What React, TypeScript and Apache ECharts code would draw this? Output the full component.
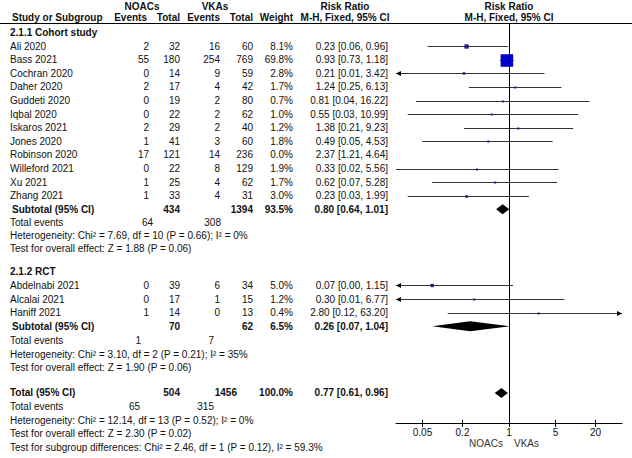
import React, { useEffect, useRef } from 'react';
import * as echarts from 'echarts';

// ---------------- data ----------------
const cohortStudies = ['Ali 2020', 'Bass 2021', 'Cochran 2020', 'Daher 2020', 'Guddeti 2020', 'Iqbal 2020', 'Iskaros 2021', 'Jones 2020', 'Robinson 2020', 'Willeford 2021', 'Xu 2021', 'Zhang 2021'];
const cohortNoacEvents = [2, 55, 0, 2, 0, 0, 2, 1, 17, 0, 1, 1];
const cohortNoacTotal = [32, 180, 14, 17, 19, 22, 29, 41, 121, 22, 25, 33];
const cohortVkaEvents = [16, 254, 9, 4, 2, 2, 2, 3, 14, 8, 4, 4];
const cohortVkaTotal = [60, 769, 59, 42, 80, 62, 40, 60, 236, 129, 62, 31];
const cohortWeight = [8.1, 69.8, 2.8, 1.7, 0.7, 1.0, 1.2, 1.8, 0.0, 1.9, 1.7, 3.0];
const cohortRR = [0.23, 0.93, 0.21, 1.24, 0.81, 0.55, 1.38, 0.49, 2.37, 0.33, 0.62, 0.23];
const cohortLower = [0.06, 0.73, 0.01, 0.25, 0.04, 0.03, 0.21, 0.05, 1.21, 0.02, 0.07, 0.03];
const cohortUpper = [0.96, 1.18, 3.42, 6.13, 16.22, 10.99, 9.23, 4.53, 4.64, 5.56, 5.28, 1.99];

const rctStudies = ['Abdelnabi 2021', 'Alcalai 2021', 'Haniff 2021'];
const rctNoacEvents = [0, 0, 1];
const rctNoacTotal = [39, 17, 14];
const rctVkaEvents = [6, 1, 0];
const rctVkaTotal = [34, 15, 13];
const rctWeight = [5.0, 1.2, 0.4];
const rctRR = [0.07, 0.30, 2.80];
const rctLower = [0.00, 0.01, 0.12];
const rctUpper = [1.15, 6.77, 63.20];

// subtotal / total: [rr, lower, upper]
const cohortSubtotal = [0.80, 0.64, 1.01];
const rctSubtotal = [0.26, 0.07, 1.04];
const overallTotal = [0.77, 0.61, 0.96];
// [noacTotal, vkaTotal, weight, noacEvents, vkaEvents]
const cohortSums = [434, 1394, 93.5, 64, 308];
const rctSums = [70, 62, 6.5, 1, 7];
const overallSums = [504, 1456, 100.0, 65, 315];

const cohortHet = 'Heterogeneity: Chi² = 7.69, df = 10 (P = 0.66); I² = 0%';
const cohortZ = 'Test for overall effect: Z = 1.88 (P = 0.06)';
const rctHet = 'Heterogeneity: Chi² = 3.10, df = 2 (P = 0.21); I² = 35%';
const rctZ = 'Test for overall effect: Z = 1.90 (P = 0.06)';
const totalHet = 'Heterogeneity: Chi² = 12.14, df = 13 (P = 0.52); I² = 0%';
const totalZ = 'Test for overall effect: Z = 2.30 (P = 0.02)';
const subgroupTest = 'Test for subgroup differences: Chi² = 2.46, df = 1 (P = 0.12), I² = 59.3%';

const tickValues = [0.05, 0.2, 1, 5, 20];
const tickLabels = ['0.05', '0.2', '1', '5', '20'];
const axisRangeMax = 50; // axis runs 1/50 .. 50 (log-symmetric around RR = 1)
const nullEffect = 1;

// ---------------- layout ----------------
const W = 632;
const H = 458;
const FONT = '"Liberation Sans", Arial, sans-serif';
const HEADER_LINE_Y = 23;
const AXIS_Y = 423;
const PLOT_LEFT = 396;
const PLOT_RIGHT = 622;
const Y0 = 32.5;
const PITCH = 13.6;
const SLOT = {
  cohortHead: 0, cohortFirst: 1, cohortSub: 13, cohortEvents: 14, cohortHet: 14.95, cohortZ: 15.9,
  rctHead: 17.6, rctFirst: 18.6, rctSub: 21.6, rctEvents: 22.65, rctHet: 23.65, rctZ: 24.65,
  total: 26.5, totalEvents: 27.5, totalHet: 28.5, totalZ: 29.5, subgroup: 30.5,
};
const COL = { study: 10, sub: 12, noacEv: 149, noacTot: 180, vkaEv: 220, vkaTot: 253, weight: 293, ci: 388 };

const rowY = (s: number) => Y0 + PITCH * s;
const LOG_MAX = Math.log10(axisRangeMax);
const LOG_MIN = -LOG_MAX;
const Y_MIN = (HEADER_LINE_Y - Y0) / PITCH;
const Y_MAX = (AXIS_Y - Y0) / PITCH;
const lg = (v: number) => (v > 0 ? Math.log10(v) : -10);
const tickLogs = tickValues.map((v) => Math.log10(v));
const ciText = (r: number, l: number, u: number) => `${r.toFixed(2)} [${l.toFixed(2)}, ${u.toFixed(2)}]`;

function T(text: string, x: number, y: number, o: { bold?: boolean; align?: string; fill?: string } = {}) {
  const align = o.align || 'left';
  return {
    type: 'text',
    x,
    y,
    silent: true,
    style: {
      text,
      fill: o.fill || '#111',
      font: `${o.bold ? 'bold ' : ''}10px ${FONT}`,
      align,
      textAlign: align,
      verticalAlign: 'middle',
      textVerticalAlign: 'middle',
    },
  };
}

function buildGraphics() {
  const g: any[] = [];
  // header
  g.push(T('NOACs', 142, 6, { bold: true, align: 'center' }));
  g.push(T('VKAs', 215, 6, { bold: true, align: 'center' }));
  g.push(T('Risk Ratio', 345, 6, { bold: true, align: 'center' }));
  g.push(T('Risk Ratio', 509, 6, { bold: true, align: 'center' }));
  g.push(T('Study or Subgroup', 12, 17, { bold: true }));
  g.push(T('Events', 147, 17, { bold: true, align: 'right' }));
  g.push(T('Total', 180, 17, { bold: true, align: 'right' }));
  g.push(T('Events', 220, 17, { bold: true, align: 'right' }));
  g.push(T('Total', 253, 17, { bold: true, align: 'right' }));
  g.push(T('Weight', 293, 17, { bold: true, align: 'right' }));
  g.push(T('M-H, Fixed, 95% CI', 345, 17, { bold: true, align: 'center' }));
  g.push(T('M-H, Fixed, 95% CI', 509, 17, { bold: true, align: 'center' }));
  g.push({ type: 'rect', silent: true, shape: { x: 0, y: HEADER_LINE_Y, width: W, height: 1 }, style: { fill: '#000' } });

  const studyRows = (names: string[], ne: number[], nt: number[], ve: number[], vt: number[], w: number[], rr: number[], lo: number[], hi: number[], first: number) => {
    names.forEach((n, i) => {
      const y = rowY(first + i);
      g.push(T(n, COL.study, y));
      g.push(T(String(ne[i]), COL.noacEv, y, { align: 'right' }));
      g.push(T(String(nt[i]), COL.noacTot, y, { align: 'right' }));
      g.push(T(String(ve[i]), COL.vkaEv, y, { align: 'right' }));
      g.push(T(String(vt[i]), COL.vkaTot, y, { align: 'right' }));
      g.push(T(`${w[i].toFixed(1)}%`, COL.weight, y, { align: 'right' }));
      g.push(T(ciText(rr[i], lo[i], hi[i]), COL.ci, y, { align: 'right' }));
    });
  };

  // cohort
  g.push(T('2.1.1 Cohort study', COL.study, rowY(SLOT.cohortHead), { bold: true }));
  studyRows(cohortStudies, cohortNoacEvents, cohortNoacTotal, cohortVkaEvents, cohortVkaTotal, cohortWeight, cohortRR, cohortLower, cohortUpper, SLOT.cohortFirst);
  let y = rowY(SLOT.cohortSub);
  g.push(T('Subtotal (95% CI)', COL.sub, y, { bold: true }));
  g.push(T(String(cohortSums[0]), COL.noacTot, y, { bold: true, align: 'right' }));
  g.push(T(String(cohortSums[1]), COL.vkaTot, y, { bold: true, align: 'right' }));
  g.push(T(`${cohortSums[2].toFixed(1)}%`, COL.weight, y, { bold: true, align: 'right' }));
  g.push(T(ciText(cohortSubtotal[0], cohortSubtotal[1], cohortSubtotal[2]), COL.ci, y, { bold: true, align: 'right' }));
  y = rowY(SLOT.cohortEvents);
  g.push(T('Total events', COL.study, y));
  g.push(T(String(cohortSums[3]), 153, y, { align: 'right' }));
  g.push(T(String(cohortSums[4]), 221, y, { align: 'right' }));
  g.push(T(cohortHet, COL.study, rowY(SLOT.cohortHet)));
  g.push(T(cohortZ, COL.study, rowY(SLOT.cohortZ)));

  // RCT
  g.push(T('2.1.2 RCT', COL.study, rowY(SLOT.rctHead), { bold: true }));
  studyRows(rctStudies, rctNoacEvents, rctNoacTotal, rctVkaEvents, rctVkaTotal, rctWeight, rctRR, rctLower, rctUpper, SLOT.rctFirst);
  y = rowY(SLOT.rctSub);
  g.push(T('Subtotal (95% CI)', COL.sub, y, { bold: true }));
  g.push(T(String(rctSums[0]), COL.noacTot, y, { bold: true, align: 'right' }));
  g.push(T(String(rctSums[1]), COL.vkaTot, y, { bold: true, align: 'right' }));
  g.push(T(`${rctSums[2].toFixed(1)}%`, COL.weight, y, { bold: true, align: 'right' }));
  g.push(T(ciText(rctSubtotal[0], rctSubtotal[1], rctSubtotal[2]), COL.ci, y, { bold: true, align: 'right' }));
  y = rowY(SLOT.rctEvents);
  g.push(T('Total events', COL.study, y));
  g.push(T(String(rctSums[3]), 141, y, { align: 'right' }));
  g.push(T(String(rctSums[4]), 214, y, { align: 'right' }));
  g.push(T(rctHet, COL.study, rowY(SLOT.rctHet)));
  g.push(T(rctZ, COL.study, rowY(SLOT.rctZ)));

  // total
  y = rowY(SLOT.total);
  g.push(T('Total (95% CI)', COL.study, y, { bold: true }));
  g.push(T(String(overallSums[0]), COL.noacTot, y, { bold: true, align: 'right' }));
  g.push(T(String(overallSums[1]), 237, y, { bold: true, align: 'right' }));
  g.push(T(`${overallSums[2].toFixed(1)}%`, COL.weight, y, { bold: true, align: 'right' }));
  g.push(T(ciText(overallTotal[0], overallTotal[1], overallTotal[2]), COL.ci, y, { bold: true, align: 'right' }));
  y = rowY(SLOT.totalEvents);
  g.push(T('Total events', COL.study, y));
  g.push(T(String(overallSums[3]), 140, y, { align: 'right' }));
  g.push(T(String(overallSums[4]), 214, y, { align: 'right' }));
  g.push(T(totalHet, COL.study, rowY(SLOT.totalHet)));
  g.push(T(totalZ, COL.study, rowY(SLOT.totalZ)));
  g.push(T(subgroupTest, COL.study, rowY(SLOT.subgroup)));

  // favours labels
  g.push(T('NOACs', 503, 443, { align: 'right', fill: '#333' }));
  g.push(T('VKAs', 514, 443, { align: 'left', fill: '#333' }));
  return g;
}

function studyData() {
  const rows: number[][] = [];
  cohortRR.forEach((r, i) => rows.push([lg(r), lg(cohortLower[i]), lg(cohortUpper[i]), SLOT.cohortFirst + i, cohortWeight[i]]));
  rctRR.forEach((r, i) => rows.push([lg(r), lg(rctLower[i]), lg(rctUpper[i]), SLOT.rctFirst + i, rctWeight[i]]));
  return rows;
}

// kind 0 = line of no effect, kind 1 = pooled diamond
function pooledData() {
  return [
    [Math.log10(nullEffect), Math.log10(nullEffect), Math.log10(nullEffect), Y_MIN, Y_MAX, 0],
    [lg(cohortSubtotal[0]), lg(cohortSubtotal[1]), lg(cohortSubtotal[2]), SLOT.cohortSub, SLOT.cohortSub, 1],
    [lg(rctSubtotal[0]), lg(rctSubtotal[1]), lg(rctSubtotal[2]), SLOT.rctSub, SLOT.rctSub, 1],
    [lg(overallTotal[0]), lg(overallTotal[1]), lg(overallTotal[2]), SLOT.total, SLOT.total, 1],
  ];
}

const snap = (v: number) => Math.round(v) + 0.5;

function renderStudy(_params: any, api: any) {
  const w = api.value(4);
  if (!(w > 0)) return null;
  const s = api.value(3);
  const loRaw = api.value(1);
  const hiRaw = api.value(2);
  const a = api.coord([Math.max(loRaw, LOG_MIN), s]);
  const b = api.coord([Math.min(hiRaw, LOG_MAX), s]);
  const c = api.coord([api.value(0), s]);
  const yy = snap(c[1]);
  const size = Math.max(2, 1.5 * Math.sqrt(w));
  const children: any[] = [
    { type: 'line', shape: { x1: a[0], y1: yy, x2: b[0], y2: yy }, style: { stroke: '#333', lineWidth: 1 } },
    { type: 'rect', shape: { x: c[0] - size / 2, y: yy - size / 2, width: size, height: size }, style: { fill: w > 20 ? '#0000cc' : '#1a1a8c' } },
  ];
  if (loRaw < LOG_MIN) {
    children.push({ type: 'polygon', shape: { points: [[a[0], yy], [a[0] + 5, yy - 2.5], [a[0] + 5, yy + 2.5]] }, style: { fill: '#000' } });
  }
  if (hiRaw > LOG_MAX) {
    children.push({ type: 'polygon', shape: { points: [[b[0], yy], [b[0] - 5, yy - 2.5], [b[0] - 5, yy + 2.5]] }, style: { fill: '#000' } });
  }
  return { type: 'group', children };
}

function renderPooled(_params: any, api: any) {
  const kind = api.value(5);
  if (kind === 0) {
    const top = api.coord([api.value(0), api.value(3)]);
    const bottom = api.coord([api.value(0), api.value(4)]);
    const x = Math.round(top[0]);
    return {
      type: 'rect',
      z2: 1,
      shape: { x, y: Math.min(top[1], bottom[1]), width: 1, height: Math.abs(bottom[1] - top[1]) },
      style: { fill: '#000' },
    };
  }
  const s = api.value(3);
  const l = api.coord([api.value(1), s]);
  const r = api.coord([api.value(2), s]);
  const c = api.coord([api.value(0), s]);
  const half = 5;
  return {
    type: 'polygon',
    z2: 2,
    shape: { points: [[l[0], c[1]], [c[0], c[1] - half], [r[0], c[1]], [c[0], c[1] + half]] },
    style: { fill: '#000' },
  };
}

export default function App() {
  const ref = useRef<HTMLDivElement>(null);
  useEffect(() => {
    if (!ref.current) return;
    const chart = echarts.init(ref.current, undefined, { renderer: 'svg' });
    const fmt = (v: number) => {
      const i = tickLogs.findIndex((t) => Math.abs(t - v) < 1e-6);
      return i >= 0 ? tickLabels[i] : '';
    };
    const option: any = {
      animation: false,
      backgroundColor: '#ffffff',
      grid: { left: PLOT_LEFT, right: W - PLOT_RIGHT, top: HEADER_LINE_Y, bottom: H - AXIS_Y, containLabel: false },
      xAxis: [
        {
          type: 'value', min: LOG_MIN, max: LOG_MAX, position: 'bottom',
          axisLine: { show: true, onZero: false, lineStyle: { color: '#000', width: 1 } },
          axisTick: { show: true, inside: false, length: 4, customValues: tickLogs, lineStyle: { color: '#000', width: 1 } },
          axisLabel: { show: true, customValues: tickLogs, formatter: fmt, margin: 4, color: '#111', fontSize: 10, fontFamily: FONT },
          splitLine: { show: false },
        },
        {
          type: 'value', min: LOG_MIN, max: LOG_MAX, position: 'bottom',
          axisLine: { show: false, onZero: false },
          axisTick: { show: true, inside: true, length: 3, customValues: tickLogs, lineStyle: { color: '#000', width: 1 } },
          axisLabel: { show: false },
          splitLine: { show: false },
        },
      ],
      yAxis: {
        type: 'value', inverse: true, show: false,
        min: Y_MIN, max: Y_MAX,
        splitLine: { show: false },
      },
      series: [
        {
          type: 'custom', clip: false, silent: true, z: 3,
          dimensions: ['rr', 'lo', 'hi', 'slot', 'w'],
          encode: { x: [0, 1, 2], y: 3 },
          data: studyData(),
          renderItem: renderStudy,
        },
        {
          type: 'custom', clip: false, silent: true, z: 4,
          dimensions: ['rr', 'lo', 'hi', 'y1', 'y2', 'kind'],
          encode: { x: [0, 1, 2], y: [3, 4] },
          data: pooledData(),
          renderItem: renderPooled,
        },
      ],
      graphic: { elements: buildGraphics() },
    };
    chart.setOption(option);
    return () => chart.dispose();
  }, []);
  return <div ref={ref} style={{ position: 'absolute', left: 0, top: 0, width: W, height: H, background: '#fff' }} />;
}
